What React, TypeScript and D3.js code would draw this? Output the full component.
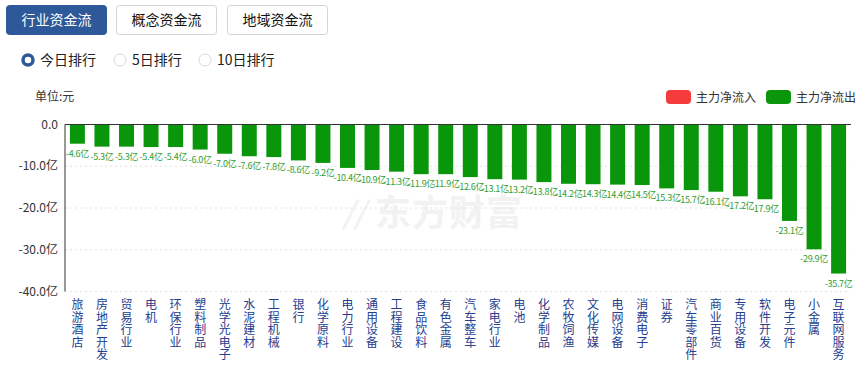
import React from "react";
import * as d3 from "d3";

const categories = ["旅游酒店","房地产开发","贸易行业","电机","环保行业","塑料制品","光学光电子","水泥建材","工程机械","银行","化学原料","电力行业","通用设备","工程建设","食品饮料","有色金属","汽车整车","家电行业","电池","化学制品","农牧饲渔","文化传媒","电网设备","消费电子","证券","汽车零部件","商业百货","专用设备","软件开发","电子元件","小金属","互联网服务"];
const values = [-4.6,-5.3,-5.3,-5.4,-5.4,-6.0,-7.0,-7.6,-7.8,-8.6,-9.2,-10.4,-10.9,-11.3,-11.9,-11.9,-12.6,-13.1,-13.2,-13.8,-14.2,-14.3,-14.4,-14.5,-15.3,-15.7,-16.1,-17.2,-17.9,-23.1,-29.9,-35.7];
const yTicks = [0, -10, -20, -30, -40];
const tabs = ["行业资金流", "概念资金流", "地域资金流"];
const radios = ["今日排行", "5日排行", "10日排行"];
const legendItems = [{ name: "主力净流入", color: "#f53b3b" }, { name: "主力净流出", color: "#0a960a" }];

const FONT = "'Noto Sans CJK SC', 'Noto Sans', sans-serif";

export default function App() {
  const W = 867, H = 369;
  const x = d3.scaleBand<string>().domain(categories).range([65, 851]).paddingInner(0.39).paddingOuter(0.2);
  const y = d3.scaleLinear().domain([-40, 0]).range([291.5, 124.5]);
  const tabX = [6, 116, 227];
  const radioX = [28, 120, 205];
  return (
    <svg width={W} height={H} style={{ position: "absolute", left: 0, top: 0, fontFamily: FONT }}>
      <rect x={0} y={0} width={W} height={H} fill="#fff" />
      {tabs.map((t, i) => (
        <g key={t}>
          <rect x={tabX[i] + 0.5} y={5.5} width={100} height={29} rx={3}
            fill={i === 0 ? "#2d5899" : "#fff"} stroke={i === 0 ? "#2d5899" : "#cfd4dc"} />
          <text x={tabX[i] + 50.5} y={25} textAnchor="middle" fontSize={14} fill={i === 0 ? "#fff" : "#111"}>{t}</text>
        </g>
      ))}
      {radios.map((r, i) => (
        <g key={r}>
          {i === 0 ? (
            <circle cx={radioX[i]} cy={60} r={5} fill="#fff" stroke="#2d5899" strokeWidth={3.5} />
          ) : (
            <circle cx={radioX[i]} cy={60} r={6} fill="#fff" stroke="#d5d8de" strokeWidth={1} />
          )}
          <text x={radioX[i] + 12} y={65} fontSize={14} fill="#222">{r}</text>
        </g>
      ))}
      <text x={35} y={101} fontSize={12} fill="#333">单位:元</text>
      {legendItems.map((l, i) => (
        <g key={l.name}>
          <rect x={666 + i * 100} y={90} width={25} height={14} rx={4} fill={l.color} />
          <text x={696 + i * 100} y={101.5} fontSize={12} fill="#333">{l.name}</text>
        </g>
      ))}
      <text x={449} y={226} textAnchor="middle" fontSize={36} fontWeight="bold" fill="#f2f2f2" letterSpacing={1}>东方财富</text>
      <text x={354} y={224} textAnchor="middle" fontSize={30} fontWeight="bold" fontStyle="italic" fill="#f2f2f2">//</text>
      {yTicks.map((t) => (
        <g key={t}>
          {t !== 0 && (
            <line x1={65} x2={851} y1={y(t)} y2={y(t)} stroke="#e2e2e2" strokeDasharray="2,3" />
          )}
          <text x={58} y={y(t) + 4} textAnchor="end" fontSize={12} fill="#333">{t === 0 ? "0.0" : `${t.toFixed(1)}亿`}</text>
        </g>
      ))}
      {categories.map((c, i) => {
        const v = values[i];
        const bx = x(c)!;
        return (
          <g key={c}>
            <rect x={bx} y={y(0)} width={x.bandwidth()} height={y(v) - y(0)} fill="#0a960a" />
            <text x={bx + x.bandwidth() / 2} y={y(v) + 13} textAnchor="middle" fontSize={9} letterSpacing={-0.3} fill="#2f9e2f">{`${v.toFixed(1)}亿`}</text>
          </g>
        );
      })}
      <line x1={65} x2={65} y1={y(0)} y2={y(-40)} stroke="#333" />
      <line x1={65} x2={851} y1={y(0)} y2={y(0)} stroke="#333" />
      {categories.map((c) => {
        const cx = x(c)! + x.bandwidth() / 2;
        return (
          <text key={c} x={cx} textAnchor="middle" fontSize={12} fill="#24408f">
            {Array.from(c).map((ch, j) => (
              <tspan key={j} x={cx} y={309 + j * 12.5}>{ch}</tspan>
            ))}
          </text>
        );
      })}
    </svg>
  );
}
